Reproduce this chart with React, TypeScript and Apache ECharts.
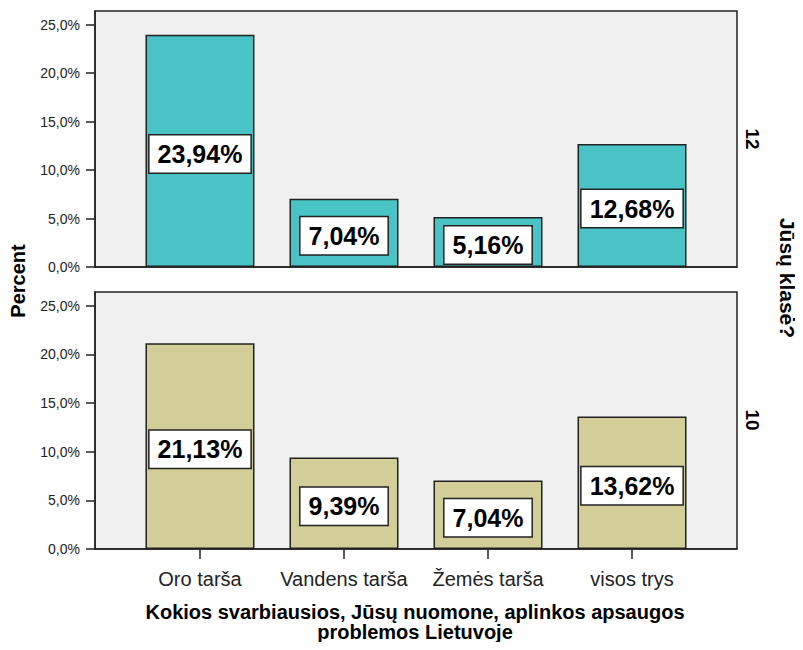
import React, { useEffect, useRef } from "react";
import * as echarts from "echarts";

const categories = ["Oro tarša", "Vandens tarša", "Žemės tarša", "visos trys"];
const class12 = [23.94, 7.04, 5.16, 12.68];
const class10 = [21.13, 9.39, 7.04, 13.62];
const yTicks = [0, 5, 10, 15, 20, 25];
const panelNames = ["12", "10"];

const FONT = "'Liberation Sans', Arial, sans-serif";

export default function App() {
  const ref = useRef<HTMLDivElement>(null);
  useEffect(() => {
    if (!ref.current) return;
    const chart = echarts.init(ref.current, undefined, { renderer: "svg" });
    const xIdx = categories.map((_, i) => i);
    const gridBase = {
      left: 95,
      right: 66,
      show: true,
      backgroundColor: "#F0F0F0",
      borderColor: "#222",
      borderWidth: 1.5,
    };
    const yAxisBase = (gi: number) => ({
      type: "value",
      gridIndex: gi,
      min: 0,
      max: 26.4,
      splitLine: { show: false },
      axisLine: { show: true, onZero: false, lineStyle: { color: "#222", width: 1.5 } },
      axisTick: { show: true, length: 9, customValues: yTicks, lineStyle: { color: "#222", width: 1.5 } },
      axisLabel: {
        customValues: yTicks,
        margin: 15,
        color: "#222",
        fontSize: 14,
        fontFamily: FONT,
        formatter: (v: number) => v.toFixed(1).replace(".", ",") + "%",
      },
    });
    const xAxisBase = (gi: number, show: boolean) => ({
      type: "value",
      gridIndex: gi,
      min: -0.729,
      max: 3.729,
      splitLine: { show: false },
      axisLine: { show: true, onZero: false, lineStyle: { color: "#222", width: 1.5 } },
      axisTick: { show, length: 10, customValues: xIdx, lineStyle: { color: "#222", width: 1.5 } },
      axisLabel: {
        show,
        customValues: xIdx,
        margin: 20,
        color: "#222",
        fontSize: 20,
        fontFamily: FONT,
        formatter: (v: number) => categories[Math.round(v)] ?? "",
      },
    });
    const labelCfg = {
      show: true,
      position: "inside",
      offset: [0, 3],
      formatter: (p: any) => p.value[1].toFixed(2).replace(".", ",") + "%",
      fontSize: 25,
      fontWeight: "bold",
      fontFamily: FONT,
      color: "#000",
      backgroundColor: "#fff",
      borderColor: "#222",
      borderWidth: 1.5,
      padding: [7, 8, 5, 8],
    };
    const mk = (vals: number[], gi: number, color: string) => ({
      type: "bar",
      xAxisIndex: gi,
      yAxisIndex: gi,
      barWidth: 109,
      data: vals.map((v, i) => [i, v]),
      itemStyle: { color, borderColor: "#222", borderWidth: 1.5 },
      label: labelCfg,
    });
    const bold = (size: number) => ({ fontSize: size, fontWeight: "bold", fontFamily: FONT, fill: "#000", align: "center", verticalAlign: "middle" });
    chart.setOption({
      animation: false,
      grid: [
        { ...gridBase, top: 11, height: 256 },
        { ...gridBase, top: 292, height: 257 },
      ],
      xAxis: [xAxisBase(0, false), xAxisBase(1, true)],
      yAxis: [yAxisBase(0), yAxisBase(1)],
      series: [mk(class12, 0, "#49C3C5"), mk(class10, 1, "#D3CE97")],
      graphic: [
        { type: "text", x: 18, y: 281, rotation: Math.PI / 2, style: { text: "Percent", ...bold(20) } },
        { type: "text", x: 752, y: 139, rotation: -Math.PI / 2, style: { text: panelNames[0], ...bold(19) } },
        { type: "text", x: 752, y: 420, rotation: -Math.PI / 2, style: { text: panelNames[1], ...bold(19) } },
        { type: "text", x: 787, y: 278, rotation: -Math.PI / 2, style: { text: "Jūsų klasė?", ...bold(21) } },
        {
          type: "text",
          x: 415,
          y: 622,
          style: {
            text: "Kokios svarbiausios, Jūsų nuomone, aplinkos apsaugos\nproblemos Lietuvoje",
            ...bold(20),
            lineHeight: 20,
          },
        },
      ],
    });
    return () => chart.dispose();
  }, []);
  return <div ref={ref} style={{ width: 803, height: 650, margin: -8 }} />;
}
